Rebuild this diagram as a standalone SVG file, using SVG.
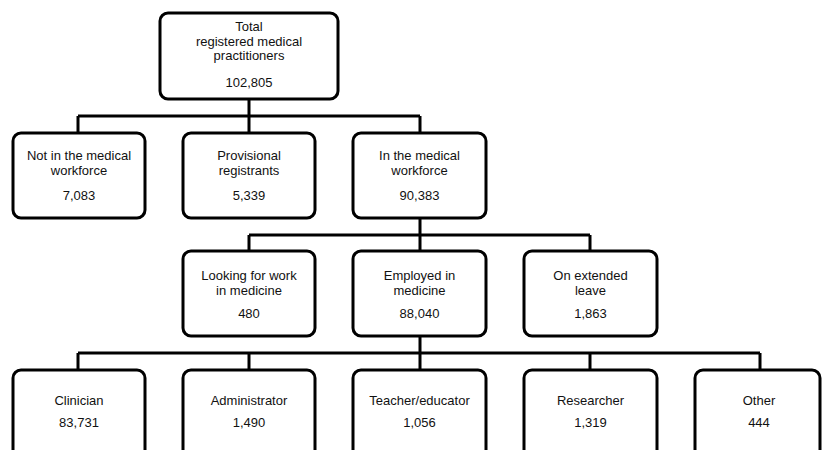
<svg xmlns="http://www.w3.org/2000/svg" width="822" height="450" viewBox="0 0 822 450">
<style>
.box{fill:#fff;stroke:#000;stroke-width:3}
.ln{fill:none;stroke:#000;stroke-width:3}
text{font-family:"Liberation Sans",Arial,sans-serif;font-size:13px;fill:#111;text-anchor:middle}
</style>
<rect width="822" height="450" fill="#fff"/>
<g id="connectors">
<path class="ln" d="M249 99V116M78 116H420M78 116V133M249 116V133M420 116V133"/>
<path class="ln" d="M420 218V235M249 235H590M249 235V251M420 235V251M590 235V251"/>
<path class="ln" d="M420 336V353M78 353H760M78 353V370M249 353V370M420 353V370M590 353V370M760 353V370"/>
</g>
<g id="total"><rect class="box" x="160" y="13" width="178" height="86" rx="8"/>
<text x="249" y="30.5">Total</text><text x="249" y="45.5">registered medical</text><text x="249" y="60">practitioners</text><text x="249" y="86.5">102,805</text></g>
<g id="not-workforce"><rect class="box" x="13" y="133" width="132" height="85" rx="8"/>
<text x="79" y="160">Not in the medical</text><text x="79" y="175">workforce</text><text x="79" y="200">7,083</text></g>
<g id="provisional"><rect class="box" x="183" y="133" width="132" height="85" rx="8"/>
<text x="249" y="160">Provisional</text><text x="249" y="175">registrants</text><text x="249" y="200">5,339</text></g>
<g id="in-workforce"><rect class="box" x="353" y="133" width="133" height="85" rx="8"/>
<text x="419.5" y="160">In the medical</text><text x="419.5" y="175">workforce</text><text x="419.5" y="200">90,383</text></g>
<g id="looking"><rect class="box" x="183" y="251" width="132" height="85" rx="8"/>
<text x="249" y="280">Looking for work</text><text x="249" y="295">in medicine</text><text x="249" y="318">480</text></g>
<g id="employed"><rect class="box" x="353" y="251" width="133" height="85" rx="8"/>
<text x="419.5" y="280">Employed in</text><text x="419.5" y="295">medicine</text><text x="419.5" y="318">88,040</text></g>
<g id="leave"><rect class="box" x="524" y="251" width="133" height="85" rx="8"/>
<text x="590.5" y="280">On extended</text><text x="590.5" y="295">leave</text><text x="590.5" y="318">1,863</text></g>
<g id="clinician"><rect class="box" x="13" y="370" width="132" height="90" rx="8"/>
<text x="79" y="405">Clinician</text><text x="79" y="426.5">83,731</text></g>
<g id="administrator"><rect class="box" x="183" y="370" width="132" height="90" rx="8"/>
<text x="249" y="405">Administrator</text><text x="249" y="426.5">1,490</text></g>
<g id="teacher"><rect class="box" x="353" y="370" width="133" height="90" rx="8"/>
<text x="419.5" y="405">Teacher/educator</text><text x="419.5" y="426.5">1,056</text></g>
<g id="researcher"><rect class="box" x="524" y="370" width="133" height="90" rx="8"/>
<text x="590.5" y="405">Researcher</text><text x="590.5" y="426.5">1,319</text></g>
<g id="other"><rect class="box" x="695" y="370" width="125" height="90" rx="8"/>
<text x="759" y="405">Other</text><text x="759" y="426.5">444</text></g>
</svg>
